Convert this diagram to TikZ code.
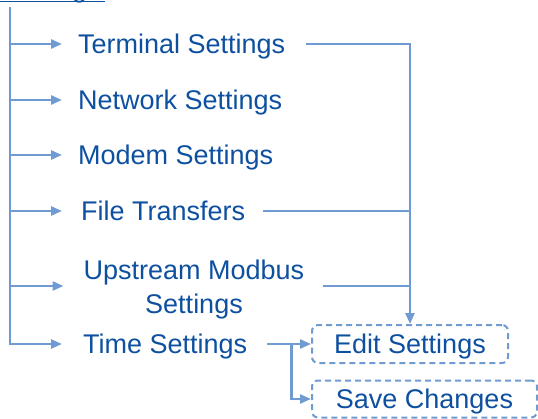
\documentclass[tikz,border=0pt]{standalone}
\usepackage{fontspec}
\setmainfont{Liberation Sans}
\usetikzlibrary{arrows.meta,calc}
\definecolor{txtblue}{RGB}{14,80,160}
\definecolor{lnblue}{RGB}{112,155,210}
\begin{document}
\begin{tikzpicture}[x=1pt,y=-1pt,
  lbl/.style={anchor=west,inner sep=0pt,text=txtblue,font=\fontsize{27}{34}\selectfont,text height=19.3pt,text depth=0pt},
  conn/.style={draw=lnblue,line width=2.6pt},
  arr/.style={conn,-{Triangle[length=11pt,width=9pt]}},
  dbox/.style={draw=lnblue,line width=2pt,dash pattern=on 6pt off 4pt,rounded corners=6pt,text=txtblue,font=\fontsize{27}{34}\selectfont,inner sep=0pt,text height=19.3pt,text depth=0pt}]
\useasboundingbox (0,0) rectangle (538,418);
% cut-off parent label
\node (top) [anchor=base west,inner sep=0pt,text=txtblue,font=\fontsize{27}{34}\selectfont] at (3,-3) {Settings};
\coordinate (ulA) at (0,1.5);
\coordinate (ulB) at (105,1.5);
\draw[txtblue,line width=1.8pt] (ulA) -- (ulB);
% child nodes
\node[lbl] (term) at (78,44) {Terminal Settings};
\node[lbl] (net) at (78,100) {Network Settings};
\node[lbl] (modem) at (78,155) {Modem Settings};
\node[lbl] (file) at (81,211) {File Transfers};
\node[anchor=center,inner sep=0pt,text=txtblue,font=\fontsize{27}{34}\selectfont,align=center] (up) at (194,290) {Upstream Modbus\\Settings};
\node[lbl] (time) at (83,344) {Time Settings};
\node[dbox,minimum width=196pt,minimum height=38pt] (edit) at (410,344) {Edit Settings};
\node[dbox,minimum width=225pt,minimum height=37pt] (save) at (424.5,399) {Save Changes};
% trunk
\coordinate (trunk) at (10,7);
\draw[arr] (trunk) |- ([xshift=-21pt]time.west);
\draw[arr] (trunk |- term.west) -- ([xshift=-16pt]term.west);
\draw[arr] (trunk |- net.west) -- ([xshift=-16pt]net.west);
\draw[arr] (trunk |- modem.west) -- ([xshift=-16pt]modem.west);
\draw[arr] (trunk |- file.west) -- ([xshift=-19pt]file.west);
\draw[arr] (trunk |- up.west) ++(0,-4) -- ([xshift=-20pt,yshift=4pt]up.west);
% collector to Edit Settings
\draw[arr] ([xshift=21pt]term.east) -| (edit.north);
\draw[conn] ([xshift=18pt]file.east) -- (file.east -| edit.north);
\draw[conn] ([xshift=19pt,yshift=4pt]up.east) -- ([yshift=4pt]up.east -| edit.north);
% Time Settings split
\draw[arr] ([xshift=20pt]time.east) -- (time.east -| edit.west);
\draw[arr] ($(time.east)+(44pt,0)$) |- (save.west);
\end{tikzpicture}
\end{document}
